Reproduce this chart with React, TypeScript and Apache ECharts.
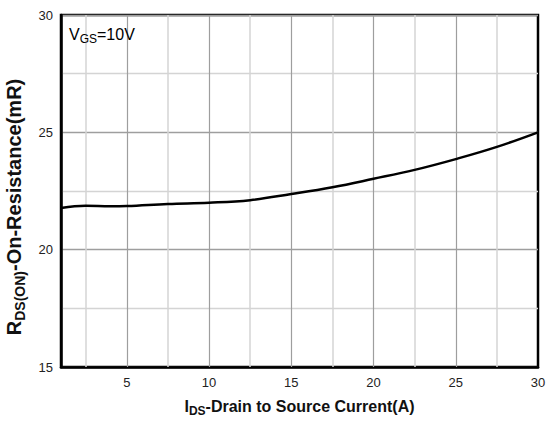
import React, { useEffect, useRef } from "react";
import * as echarts from "echarts";

const currentA = [1, 2.5, 4, 5, 7.5, 10, 12.5, 15, 17.5, 20, 22.5, 25, 27.5, 30];
const resistance = [21.78, 21.87, 21.85, 21.86, 21.95, 22.0, 22.11, 22.37, 22.66, 23.02, 23.4, 23.86, 24.38, 25.0];
const xTickLabels = [5, 10, 15, 20, 25, 30];
const xMajorGrid = [5, 10, 15, 20, 25];
const xMinorGrid = [2.5, 7.5, 12.5, 17.5, 22.5, 27.5];

const FONT = "'Liberation Sans', Arial, sans-serif";
const MAJOR = "#9e9e9e";
const MINOR = "#d4d4d4";

export default function App() {
  const ref = useRef<HTMLDivElement>(null);
  useEffect(() => {
    document.body.style.margin = "0";
    if (!ref.current) return;
    const chart = echarts.init(ref.current, null, { renderer: "svg" });
    const gridLines = [
      ...xMinorGrid.map((v) => ({ xAxis: v, lineStyle: { color: MINOR, width: 1.5, type: "solid" } })),
      ...xMajorGrid.map((v) => ({ xAxis: v, lineStyle: { color: MAJOR, width: 1.2, type: "solid" } })),
    ];
    chart.setOption({
      animation: false,
      textStyle: { fontFamily: FONT },
      grid: {
        left: 61,
        top: 15,
        right: 9,
        bottom: 58,
        outerBoundsMode: "none",
        containLabel: false,
        show: true,
        borderColor: "#000",
        borderWidth: 2.5,
        backgroundColor: "transparent",
      },
      xAxis: {
        type: "value",
        min: 1,
        max: 30,
        axisLine: { show: true, lineStyle: { color: "#000", width: 2.5 } },
        axisTick: { show: false },
        splitLine: { show: false },
        axisLabel: {
          customValues: xTickLabels,
          fontSize: 13,
          color: "#222",
          margin: 9,
          fontFamily: FONT,
        },
        name: "{b|I}{s|DS}{b|-Drain to Source Current(A)}",
        nameLocation: "middle",
        nameGap: 28,
        nameTextStyle: {
          rich: {
            b: { fontSize: 16, fontWeight: "bold", color: "#111", fontFamily: FONT },
            s: { fontSize: 12, fontWeight: "bold", color: "#111", fontFamily: FONT, padding: [10, 0, 0, 0] },
          },
        },
      },
      yAxis: {
        type: "value",
        min: 15,
        max: 30,
        interval: 2.5,
        axisLine: { show: true, lineStyle: { color: "#000", width: 2.5 } },
        axisTick: { show: false },
        splitLine: { show: true, lineStyle: { color: [MAJOR, MINOR], width: 1.3 } },
        axisLabel: {
          fontSize: 13,
          color: "#222",
          margin: 8,
          fontFamily: FONT,
          formatter: (v: number) => (v % 5 === 0 ? String(v) : ""),
        },
        name: "{b|R}{s|DS(ON)}{b|-On-Resistance(mR)}",
        nameLocation: "middle",
        nameGap: 34,
        nameTextStyle: {
          padding: [0, 32, 0, 0],
          rich: {
            b: { fontSize: 20, fontWeight: "bold", color: "#111", fontFamily: FONT },
            s: { fontSize: 14, fontWeight: "bold", color: "#111", fontFamily: FONT, padding: [12, 0, 0, 0] },
          },
        },
      },
      graphic: [
        {
          type: "text",
          left: 69,
          top: 26,
          z: 10,
          style: {
            text: "{a|V}{s|GS}{a|=10V}",
            rich: {
              a: { fontSize: 16, color: "#111", fontFamily: FONT },
              s: { fontSize: 12, color: "#111", fontFamily: FONT, padding: [9, 0, 0, 0] },
            },
          },
        },
      ],
      series: [
        {
          type: "line",
          data: [],
          z: 1,
          silent: true,
          markLine: {
            silent: true,
            symbol: "none",
            label: { show: false },
            animation: false,
            data: gridLines,
          },
        },
        {
          type: "line",
          z: 5,
          data: currentA.map((x, i) => [x, resistance[i]]),
          smooth: 0.4,
          showSymbol: false,
          lineStyle: { color: "#000", width: 2.5 },
        },
      ],
    });
    return () => chart.dispose();
  }, []);
  return <div ref={ref} style={{ width: 547, height: 425 }} />;
}
